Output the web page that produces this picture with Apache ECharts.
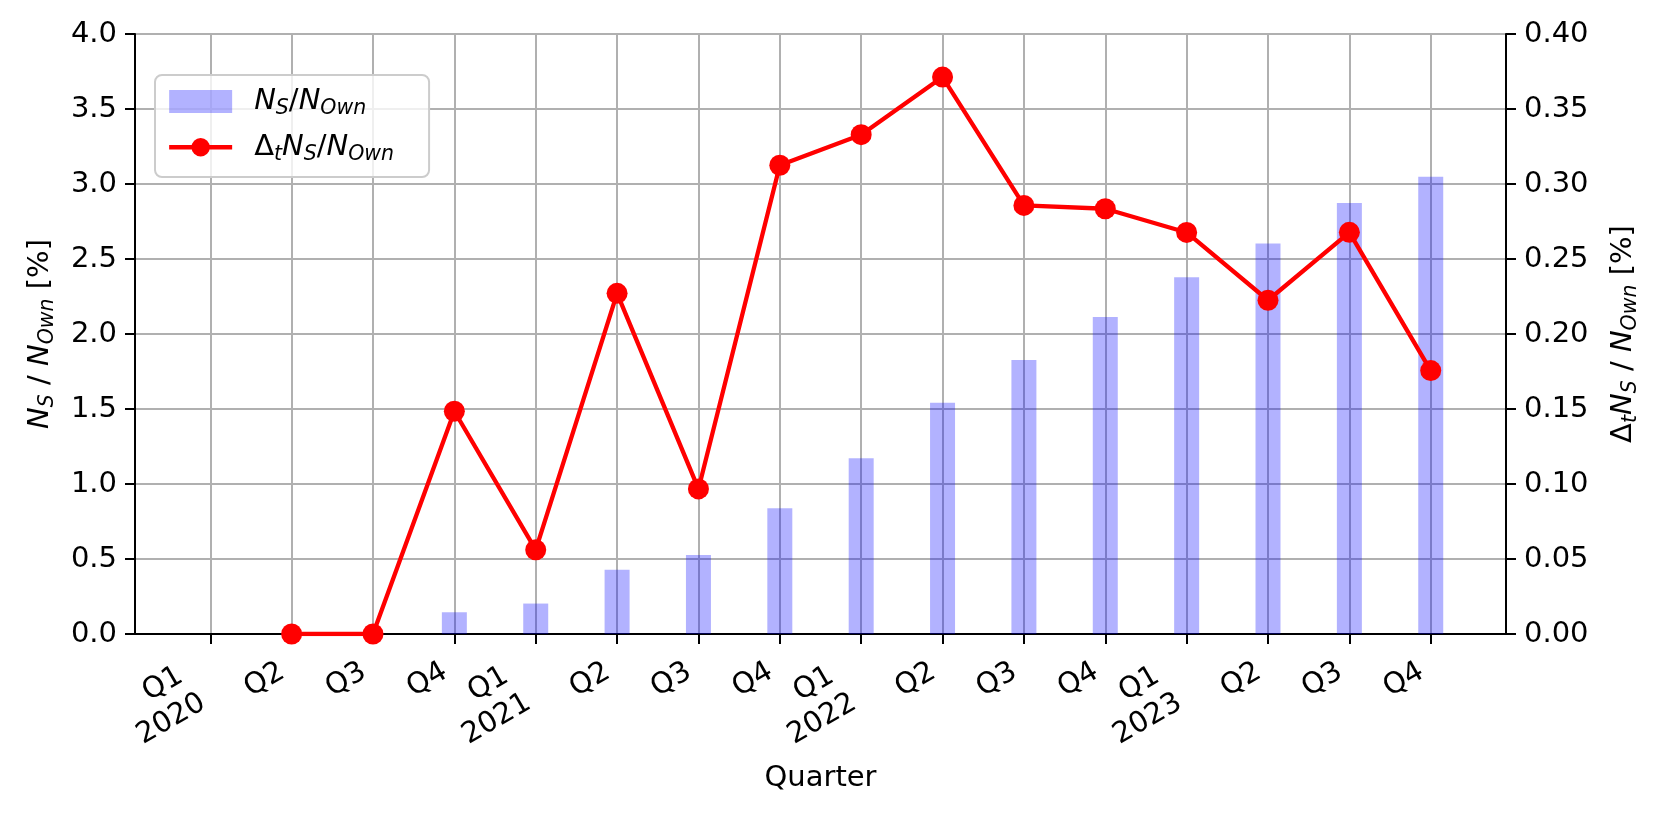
<!DOCTYPE html>
<html>
<head>
<meta charset="utf-8">
<script src="https://cdn.jsdelivr.net/npm/echarts@6/dist/echarts.min.js"></script>
<style>
  html, body { margin: 0; padding: 0; background: #fff; }
  #chart { width: 1661px; height: 815px; }
</style>
</head>
<body>
<div id="chart"></div>
<script>
// quarter tick labels, the year goes on a second line under each Q1
const quarters = ['Q1', 'Q2', 'Q3', 'Q4', 'Q1', 'Q2', 'Q3', 'Q4', 'Q1', 'Q2', 'Q3', 'Q4', 'Q1', 'Q2', 'Q3', 'Q4'];
const years = ['2020', '', '', '', '2021', '', '', '', '2022', '', '', '', '2023', '', '', ''];

// N_S / N_Own [%]  (bars, left axis)
const shareValues = [0, 0, 0, 0.145, 0.203, 0.429, 0.527, 0.838, 1.171, 1.541, 1.827, 2.113, 2.379, 2.603, 2.874, 3.049];
// Delta_t N_S / N_Own [%]  (line, right axis)
const growthValues = [null, 0, 0, 0.1485, 0.0561, 0.2271, 0.0967, 0.3125, 0.3329, 0.3713, 0.2857, 0.2835, 0.2677, 0.2225, 0.2678, 0.1756];

const FONT = 'DejaVu Sans';
const FS = 29;
const LH = 34.5;
const idx = quarters.map((_, i) => i);

const rich = {
  i: { fontFamily: FONT, fontSize: FS, fontStyle: 'italic', lineHeight: LH, color: '#000' },
  n: { fontFamily: FONT, fontSize: FS, lineHeight: LH, color: '#000' },
  s: { fontFamily: FONT, fontSize: 20.5, fontStyle: 'italic', lineHeight: 23.5, verticalAlign: 'bottom', color: '#000' }
};

const legendLabels = {
  share: '{i|N}{s|S}{n|/}{i|N}{s|Own}',
  growth: '{n|Δ}{s|t}{i|N}{s|S}{n|/}{i|N}{s|Own}'
};

const labelBase = {
  customValues: idx,
  rotate: 30,
  align: 'right',
  verticalAlign: 'top',
  fontFamily: FONT,
  fontSize: FS,
  lineHeight: LH,
  color: '#000'
};

const xBase = {
  type: 'value',
  position: 'bottom',
  min: -0.925,
  max: 15.925
};

const chart = echarts.init(document.getElementById('chart'));

chart.setOption({
  animation: false,
  backgroundColor: '#fff',
  textStyle: { fontFamily: FONT },
  grid: {
    left: 135,
    right: 155,
    top: 34,
    bottom: 181,
    show: true,
    borderColor: '#000',
    borderWidth: 2,
    outerBoundsMode: 'none'
  },
  legend: {
    orient: 'vertical',
    left: 155,
    top: 75,
    padding: [12, 35, 12.5, 12],
    itemGap: 14,
    itemWidth: 63,
    itemHeight: 23,
    backgroundColor: 'rgba(255,255,255,0.8)',
    borderColor: '#cccccc',
    borderWidth: 2,
    borderRadius: 7,
    lineStyle: { width: 4.3 },
    data: [{ name: 'share', icon: 'rect' }, { name: 'growth' }],
    formatter: (name) => legendLabels[name],
    textStyle: { padding: [0, 0, 0, 17], rich: rich }
  },
  xAxis: [
    {
      // ticks, grid and the one-line Q2..Q4 labels
      ...xBase,
      name: 'Quarter',
      nameLocation: 'middle',
      nameGap: 127,
      nameMoveOverlap: false,
      nameTextStyle: { fontFamily: FONT, fontSize: FS, lineHeight: LH, color: '#000' },
      axisLine: { show: true, onZero: false, lineStyle: { color: '#000', width: 2 } },
      axisTick: { show: true, length: 10, customValues: idx, lineStyle: { color: '#000', width: 2 } },
      splitLine: { show: true, lineStyle: { color: '#b0b0b0', width: 2 } },
      axisLabel: {
        ...labelBase,
        margin: 10.5,
        padding: [0, 20.5, 0, 0],
        formatter: (v) => {
          const k = Math.round(v);
          return years[k] ? '' : quarters[k];
        }
      }
    },
    {
      // two-line Q1 / year labels
      ...xBase,
      axisLine: { show: false, onZero: false },
      axisTick: { show: false },
      splitLine: { show: false },
      axisLabel: {
        ...labelBase,
        margin: 3,
        padding: [0, 38, 0, 0],
        rich: {
          q: { fontFamily: FONT, fontSize: FS, lineHeight: LH, color: '#000', padding: [0, 6, 0, 0] },
          y: { fontFamily: FONT, fontSize: FS, lineHeight: LH, color: '#000' }
        },
        formatter: (v) => {
          const k = Math.round(v);
          return years[k] ? '{q|' + quarters[k] + '}\n{y|' + years[k] + '}' : '';
        }
      }
    }
  ],
  yAxis: [
    {
      type: 'value',
      position: 'left',
      min: 0,
      max: 4,
      interval: 0.5,
      name: '{i|N}{s|S}{n| / }{i|N}{s|Own}{n| [%]}',
      nameLocation: 'middle',
      nameRotate: 90,
      nameGap: 77,
      nameMoveOverlap: false,
      nameTextStyle: { rich: rich },
      axisLine: { show: true, onZero: false, lineStyle: { color: '#000', width: 2 } },
      axisTick: { show: true, length: 10, lineStyle: { color: '#000', width: 2 } },
      axisLabel: {
        margin: 18,
        fontFamily: FONT,
        fontSize: FS,
        color: '#000',
        formatter: (v) => v.toFixed(1)
      },
      splitLine: { show: true, lineStyle: { color: '#b0b0b0', width: 2 } }
    },
    {
      type: 'value',
      position: 'right',
      min: 0,
      max: 0.4,
      interval: 0.05,
      name: '{n|Δ}{s|t}{i|N}{s|S}{n| / }{i|N}{s|Own}{n| [%]}',
      nameLocation: 'middle',
      nameRotate: 90,
      nameGap: 100,
      nameMoveOverlap: false,
      nameTextStyle: { rich: rich },
      axisLine: { show: true, onZero: false, lineStyle: { color: '#000', width: 2 } },
      axisTick: { show: true, length: 10, lineStyle: { color: '#000', width: 2 } },
      axisLabel: {
        margin: 18,
        fontFamily: FONT,
        fontSize: FS,
        color: '#000',
        formatter: (v) => v.toFixed(2)
      },
      splitLine: { show: false }
    }
  ],
  series: [
    {
      name: 'share',
      type: 'bar',
      xAxisIndex: 0,
      yAxisIndex: 0,
      barWidth: 25,
      itemStyle: { color: 'rgba(0,0,255,0.3)' },
      data: idx.map((i) => [i, shareValues[i]])
    },
    {
      name: 'growth',
      type: 'line',
      xAxisIndex: 0,
      yAxisIndex: 1,
      symbol: 'circle',
      symbolSize: 21,
      itemStyle: { color: '#ff0000' },
      lineStyle: { color: '#ff0000', width: 4.3 },
      data: idx.map((i) => [i, growthValues[i] == null ? '-' : growthValues[i]]),
      z: 5
    }
  ]
});
</script>
</body>
</html>
